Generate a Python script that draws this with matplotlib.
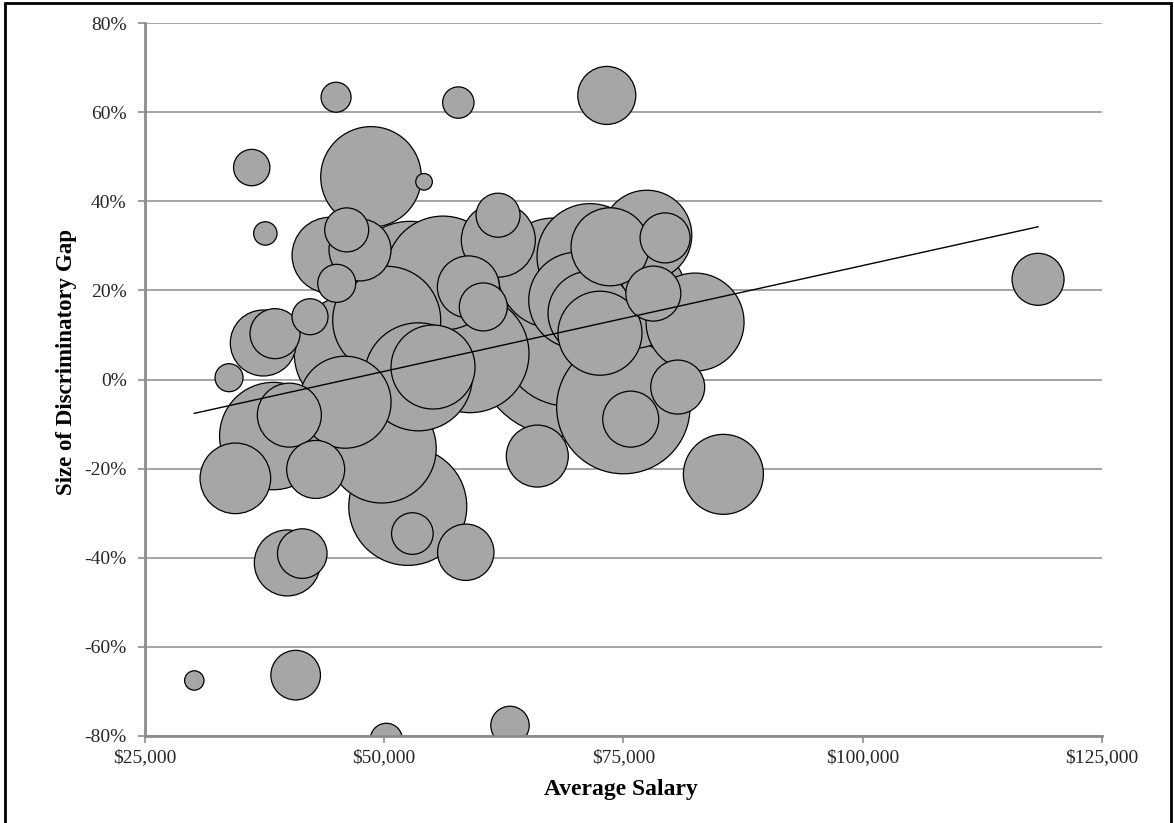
import numpy as np
import matplotlib
matplotlib.use("Agg")
import matplotlib.pyplot as plt
from matplotlib.patches import Rectangle

# ---- data ----
salary = [44990, 57760, 36180, 48640, 54180, 37600, 73270, 118320, 30180, 40770,
          50240, 63160, 39900, 41460, 52480, 52960, 58540, 34470, 38430, 40110,
          42860, 49760, 33810, 37390, 38610, 42270, 45060, 44360, 46100, 47490,
          46790, 45930, 50280, 52720, 56160, 53580, 55120, 58980, 58810, 60370,
          61940, 61910, 67660, 71520, 73610, 77450, 79360, 78130, 76040, 82490,
          70130, 71520, 72560, 68700, 69220, 75000, 75770, 80680, 66010, 85450]
gap_pct = [63.4, 62.2, 47.6, 45.5, 44.4, 32.8, 63.8, 22.5, -67.6, -66.4,
           -80.8, -77.7, -41.2, -39.1, -28.5, -34.6, -38.8, -22.2, -12.7, -8.0,
           -20.2, -15.5, 0.4, 8.2, 10.3, 14.1, 21.6, 27.9, 33.6, 29.1,
           5.8, -5.1, 13.3, 21.6, 23.9, 0.6, 2.8, 5.8, 20.8, 16.3,
           31.3, 36.9, 23.9, 27.6, 29.8, 32.4, 31.8, 19.3, 18.9, 12.9,
           17.8, 14.9, 10.4, 7.0, 9.3, -6.2, -8.9, -1.7, -17.2, -21.3]
bubble_size = [225, 246, 331, 2530, 69, 137, 841, 676, 94, 615,
               256, 369, 1089, 615, 3481, 433, 795, 1246, 2884, 1024,
               841, 2970, 196, 1089, 625, 324, 361, 1444, 484, 961,
               3481, 2116, 2916, 3844, 3249, 2916, 1764, 3481, 961, 576,
               1369, 484, 3025, 2809, 1521, 2025, 625, 756, 2809, 2401,
               2304, 1764, 1764, 7744, 4624, 4449, 784, 729, 961, 1600]

# linear trendline as shown in the chart (gap % = slope * salary + intercept)
trend_slope = 4.754e-4
trend_intercept = -21.95

x_ticks = [25000, 50000, 75000, 100000, 125000]
x_tick_labels = ["$25,000", "$50,000", "$75,000", "$100,000", "$125,000"]
y_ticks = [-80, -60, -40, -20, 0, 20, 40, 60, 80]
y_tick_labels = ["-80%", "-60%", "-40%", "-20%", "0%", "20%", "40%", "60%", "80%"]

# ---- figure ----
W, H, DPI = 1174, 823, 100
fig = plt.figure(figsize=(W / DPI, H / DPI), dpi=DPI)
plt.rcParams['font.family'] = ['Liberation Serif', 'DejaVu Serif']

left, right, top, bottom = 144.7, 1102, 23.3, 735.7
ax = fig.add_axes([left / W, 1 - bottom / H, (right - left) / W, (bottom - top) / H])

grid_c = '#8c8c8c'
ax.set_xlim(25000, 125000)
ax.set_ylim(-80, 80)
ax.set_yticks(y_ticks)
ax.set_yticklabels(y_tick_labels)
ax.set_xticks(x_ticks)
ax.set_xticklabels(x_tick_labels)
ax.yaxis.grid(True, color=grid_c, linewidth=1.1)
ax.set_axisbelow(True)

x = np.array(salary, dtype=float)
y = np.array(gap_pct, dtype=float)
sz = np.array(bubble_size, dtype=float)
order = np.argsort(-sz, kind='stable')
px_to_pt = 72.0 / DPI
ax.scatter(x[order], y[order], s=sz[order] * (2 * px_to_pt) ** 2,
           facecolor='#a6a6a6', edgecolor='black', linewidth=0.9, zorder=3)

xt = np.array([x.min(), x.max()])
ax.plot(xt, trend_slope * xt + trend_intercept, color='black', linewidth=1.0, zorder=4)

for s in ['top', 'right']:
    ax.spines[s].set_visible(False)
for s in ['left', 'bottom']:
    ax.spines[s].set_color(grid_c)
    ax.spines[s].set_linewidth(2.0)
    ax.spines[s].set_zorder(5)

ax.tick_params(axis='both', colors=grid_c, length=5, width=1.2, direction='out',
               labelsize=14, labelcolor='#262626')
ax.tick_params(axis='y', pad=8)
ax.tick_params(axis='x', pad=5)

fig.text(621 / W, 1 - 790 / H, 'Average Salary', ha='center', va='center',
         fontsize=17, fontweight='bold', color='black')
fig.text(67 / W, 1 - 362 / H, 'Size of Discriminatory Gap', ha='center', va='center',
         rotation=90, fontsize=16.5, fontweight='bold', color='black')

# outer frame
fig.patches.append(Rectangle((5 / W, -0.05), (1171 - 5) / W, 1 - 3 / H + 0.05,
                             transform=fig.transFigure, fill=False,
                             edgecolor='black', linewidth=2.0))

fig.savefig('out.png', dpi=DPI)
